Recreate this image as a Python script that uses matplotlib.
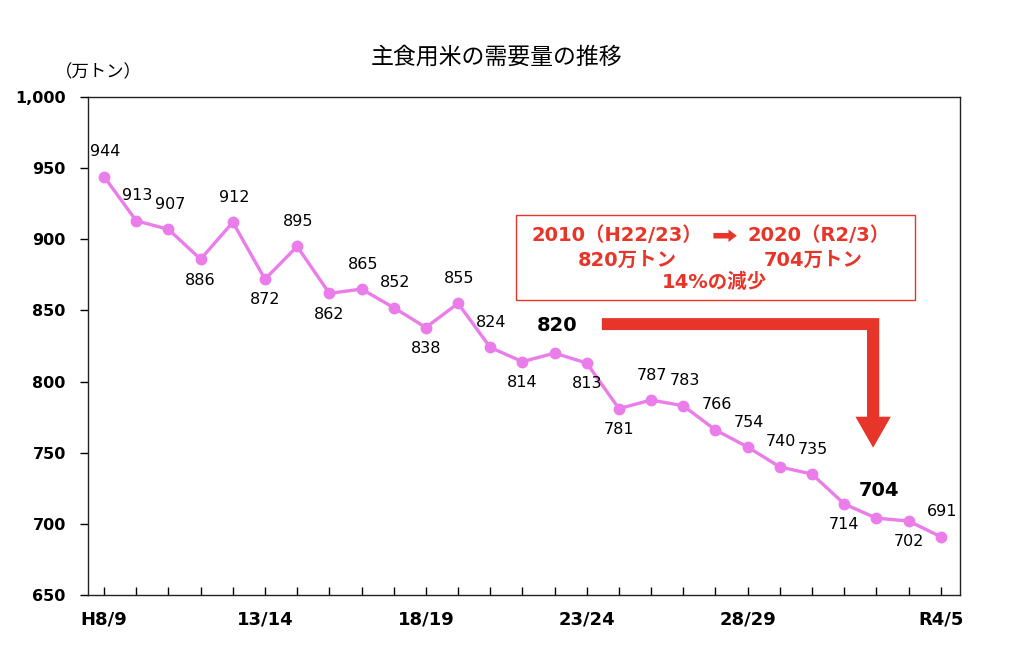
import matplotlib
matplotlib.use("Agg")
import matplotlib.pyplot as plt
from matplotlib.patches import Polygon, Rectangle

plt.rcParams['font.family'] = ['DejaVu Sans', 'Noto Sans CJK JP']

# ---- data ----
years = ["H8/9", "9/10", "10/11", "11/12", "12/13", "13/14", "14/15", "15/16", "16/17",
         "17/18", "18/19", "19/20", "20/21", "21/22", "22/23", "23/24", "24/25", "25/26",
         "26/27", "27/28", "28/29", "29/30", "30/R1", "R1/2", "R2/3", "R3/4", "R4/5"]
demand = [944, 913, 907, 886, 912, 872, 895, 862, 865, 852, 838, 855, 824, 814, 820,
          813, 781, 787, 783, 766, 754, 740, 735, 714, 704, 702, 691]
label_pos = ["a", "a", "a", "b", "a", "b", "a", "b", "a", "a", "b", "a", "a", "b", "A",
             "b", "b", "a", "a", "a", "a", "a", "a", "b", "A", "b", "a"]
shown_ticks = {0: "H8/9", 5: "13/14", 10: "18/19", 15: "23/24", 20: "28/29", 26: "R4/5"}
y_ticks = [650, 700, 750, 800, 850, 900, 950, 1000]
y_ticklabels = ["650", "700", "750", "800", "850", "900", "950", "1,000"]

line_color = "#EA7DEA"
red = "#E8352A"

fig = plt.figure(figsize=(10.24, 6.66), dpi=100)
ax = fig.add_axes([88/1024, 1-595/666, (960-88)/1024, (595-97)/666])

x = list(range(len(demand)))
ax.plot(x, demand, color=line_color, lw=2.4, marker="o", ms=7.5, zorder=3)

for i, (v, p) in enumerate(zip(demand, label_pos)):
    if p == "a":
        ax.annotate(str(v), (i, v), xytext=(1, 18), textcoords="offset points",
                    ha="center", va="center", fontsize=11.5)
    elif p == "b":
        ax.annotate(str(v), (i, v), xytext=(0, -15), textcoords="offset points",
                    ha="center", va="center", fontsize=11.5)
    else:
        ax.annotate(str(v), (i, v), xytext=(2, 20), textcoords="offset points",
                    ha="center", va="center", fontsize=14, fontweight="bold")

ax.set_xlim(-0.5, 26.6)
ax.set_ylim(650, 1000)
ax.set_yticks(y_ticks)
ax.set_yticklabels(y_ticklabels, fontsize=11.5, fontweight="bold")
ax.tick_params(axis="y", direction="out", length=6, width=1, pad=10)

ax.set_xticks(x)
ax.set_xticklabels([shown_ticks.get(i, "") for i in x], fontsize=13, fontweight="bold")
ax.tick_params(axis="x", direction="in", length=6, width=1, pad=11)

for s in ax.spines.values():
    s.set_linewidth(1.0)
    s.set_color("#222222")

# title and unit
fig.text(497/1024, 1-57/666, "主食用米の需要量の推移", ha="center", va="center",
         fontsize=16.5, family=["Noto Sans CJK JP"])
fig.text(98/1024, 1-72/666, "（万トン）", ha="center", va="center",
         fontsize=12.5, family=["Noto Sans CJK JP"])

# annotation box
i0 = demand.index(820)
i1 = demand.index(704)
box = Rectangle((12.8, 857.5), 12.4, 59.5, fill=False, edgecolor=red, lw=1.0,
                zorder=2)
ax.add_patch(box)
tk = dict(color=red, fontsize=14, fontweight="bold", ha="center", va="center",
          family=["DejaVu Sans", "Noto Sans CJK JP"])
ax.text(15.93, 902.5, "2010（H22/23）", **tk)
ax.text(22.2, 902.5, "2020（R2/3）", **tk)
ax.text(16.27, 885.5, "820万トン", **tk)
ax.text(22.05, 885.5, "704万トン", **tk)
ax.text(18.98, 869.5, "14%の減少", **tk)
ax.annotate("", xy=(19.75, 902.5), xytext=(18.85, 902.5),
            arrowprops=dict(arrowstyle="simple,head_width=0.9,head_length=0.6,tail_width=0.4",
                            color=red, lw=0))

# big bent arrow from 820 to 704
xs = i0 + 1.47
xe = i1 - 0.1
yb = 840.4
bw = 0.19
hw_y = 4.2
hx = 0.55
arrow_poly = [
    (xs, yb + hw_y), (xe + bw, yb + hw_y), (xe + bw, 775.3), (xe + hx, 775.3),
    (xe, 753.5), (xe - hx, 775.3), (xe - bw, 775.3), (xe - bw, yb - hw_y),
    (xs, yb - hw_y)
]
ax.add_patch(Polygon(arrow_poly, closed=True, facecolor=red, edgecolor="none", zorder=2))

fig.savefig("out.png", dpi=100)
